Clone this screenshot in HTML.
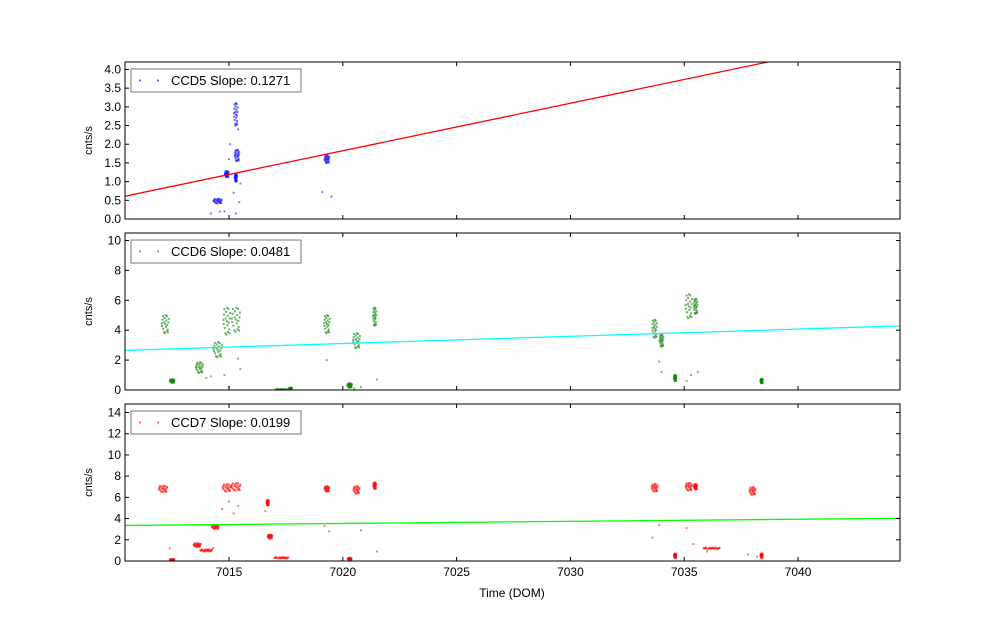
<!DOCTYPE html>
<html><head><meta charset="utf-8">
<style>
html,body{margin:0;padding:0;background:#fff;}
svg{display:block;font-family:"Liberation Sans","DejaVu Sans",sans-serif;}
</style></head>
<body>
<svg id="chart" width="1000" height="624" viewBox="0 0 1000 624"></svg>
<script>
// ---- data ----
const xTicks = [7015, 7020, 7025, 7030, 7035, 7040];
const ccdNames = ["CCD5", "CCD6", "CCD7"];
const slopes = ["0.1271", "0.0481", "0.0199"];
const yTicks5 = [0.0, 0.5, 1.0, 1.5, 2.0, 2.5, 3.0, 3.5, 4.0];
const yTicks6 = [0, 2, 4, 6, 8, 10];
const yTicks7 = [0, 2, 4, 6, 8, 10, 12, 14];
const fit5 = [0.61, 0.1271];   // intercept at x-min, slope
const fit6 = [2.65, 0.0481];
const fit7 = [3.35, 0.0199];
// clusters: x, y, x-spread (days), y-spread
const clX5 = [7014.5, 7014.9, 7015.3, 7015.35, 7015.3, 7019.3];
const clY5 = [0.48, 1.2, 2.8, 1.7, 1.1, 1.6];
const clDX5 = [0.18, 0.08, 0.08, 0.1, 0.05, 0.1];
const clDY5 = [0.06, 0.08, 0.3, 0.15, 0.1, 0.1];
const outX5 = [7015.05, 7015.2, 7015.45, 7015.5, 7019.1, 7019.5, 7015.0, 7014.2, 7014.6, 7014.8, 7015.3, 7015.4];
const outY5 = [2.0, 0.7, 0.45, 0.95, 0.72, 0.6, 1.6, 0.15, 0.2, 0.2, 0.15, 2.4];
const clX6 = [7012.2, 7012.5, 7013.7, 7014.5, 7014.9, 7015.3, 7017.3, 7017.7, 7019.3, 7020.3, 7020.6, 7021.4, 7033.7, 7034.0, 7034.6, 7035.2, 7035.5, 7038.4];
const clY6 = [4.4, 0.6, 1.5, 2.7, 4.6, 4.7, 0.03, 0.1, 4.4, 0.3, 3.3, 4.9, 4.1, 3.3, 0.8, 5.6, 5.6, 0.6];
const clDX6 = [0.15, 0.1, 0.15, 0.18, 0.15, 0.18, 0.25, 0.06, 0.12, 0.1, 0.15, 0.07, 0.1, 0.08, 0.05, 0.14, 0.08, 0.05];
const clDY6 = [0.6, 0.12, 0.35, 0.5, 0.9, 0.8, 0.03, 0.05, 0.6, 0.15, 0.5, 0.6, 0.6, 0.4, 0.2, 0.8, 0.5, 0.15];
const outX6 = [7014.0, 7014.8, 7015.0, 7015.5, 7019.3, 7020.5, 7021.5, 7033.9, 7034.0, 7035.3, 7035.6, 7035.1, 7020.8, 7014.2, 7015.4];
const outY6 = [0.8, 1.0, 0.2, 1.4, 2.0, 0.1, 0.7, 1.9, 1.2, 1.0, 1.2, 0.6, 0.2, 0.9, 2.1];
const clX7 = [7012.1, 7012.5, 7013.6, 7014.0, 7014.4, 7014.9, 7015.3, 7016.7, 7016.8, 7017.3, 7019.3, 7020.3, 7020.6, 7021.4, 7033.7, 7034.6, 7035.2, 7035.5, 7036.2, 7038.0, 7038.4];
const clY7 = [6.8, 0.1, 1.5, 1.0, 3.2, 6.9, 7.0, 5.5, 2.3, 0.3, 6.8, 0.2, 6.7, 7.1, 6.9, 0.5, 7.0, 7.0, 1.2, 6.6, 0.5];
const clDX7 = [0.18, 0.1, 0.15, 0.25, 0.15, 0.18, 0.2, 0.05, 0.1, 0.3, 0.1, 0.08, 0.13, 0.06, 0.13, 0.05, 0.14, 0.07, 0.35, 0.13, 0.05];
const clDY7 = [0.3, 0.08, 0.18, 0.1, 0.18, 0.35, 0.35, 0.25, 0.18, 0.06, 0.25, 0.1, 0.35, 0.3, 0.35, 0.2, 0.35, 0.25, 0.06, 0.35, 0.2];
const outX7 = [7012.4, 7014.3, 7014.7, 7015.0, 7015.2, 7015.4, 7016.6, 7019.2, 7019.4, 7020.8, 7021.5, 7033.6, 7033.9, 7035.1, 7035.4, 7036.0, 7037.8, 7038.2];
const outY7 = [1.2, 1.2, 4.9, 5.6, 4.5, 5.2, 4.7, 3.3, 2.8, 2.9, 0.9, 2.2, 3.4, 3.1, 1.6, 0.9, 0.6, 0.4];

const xMin = 7010.43, xMax = 7044.48, L = 125, R = 900;
const panels = [
 {top:62, bot:219, yMax:4.2, ticks:yTicks5, fmt:v=>v.toFixed(1), fit:fit5, fitCol:"#ff0000", dot:"#0000ff", cx:clX5, cy:clY5, dx:clDX5, dy:clDY5, ox:outX5, oy:outY5},
 {top:233, bot:390, yMax:10.5, ticks:yTicks6, fmt:v=>String(v), fit:fit6, fitCol:"#00ffff", dot:"#008000", cx:clX6, cy:clY6, dx:clDX6, dy:clDY6, ox:outX6, oy:outY6},
 {top:404, bot:561, yMax:14.8, ticks:yTicks7, fmt:v=>String(v), fit:fit7, fitCol:"#00ff00", dot:"#ff0000", cx:clX7, cy:clY7, dx:clDX7, dy:clDY7, ox:outX7, oy:outY7}
];
const NS = "http://www.w3.org/2000/svg";
const svg = document.getElementById("chart");
function mk(tag, attrs, parent){ const e=document.createElementNS(NS,tag); for(const k in attrs) e.setAttribute(k,attrs[k]); (parent||svg).appendChild(e); return e; }
const xs = v => L + (v - xMin) / (xMax - xMin) * (R - L);
// fixed jitter pattern used to spread a cluster's dots
const pat = [[0,0],[-0.8,0.5],[0.7,-0.6],[-0.4,-0.9],[0.5,0.9],[0.9,0.2],[-0.9,-0.2],[0.2,-0.3],[-0.2,0.7],[0.3,0.4],[-0.6,-0.5],[0.6,-0.1],[0.1,1],[-0.1,-1],[-0.3,0.2],[0.4,-0.8],[-0.7,0.9],[0.8,-0.9],[-1,0.1],[1,0.6]];

panels.forEach((p, i) => {
  const g = mk("g", {});
  
  
  const ys = v => p.bot - v / p.yMax * (p.bot - p.top);
  const clip = mk("clipPath", {id:"c"+i}, g);
  mk("rect", {x:L, y:p.top, width:R-L, height:p.bot-p.top}, clip);
  const plot = mk("g", {"clip-path":"url(#c"+i+")"}, g);
  for (let k = 0; k < p.cx.length; k++) {
    pat.forEach(o => {
      const d = mk("rect", {x:xs(p.cx[k] + o[0]*p.dx[k]) - 1, y:ys(p.cy[k] + o[1]*p.dy[k]) - 1, width:2, height:2, fill:p.dot, opacity:0.6}, plot);
      
      
    });
  }
  for (let k = 0; k < p.ox.length; k++) {
    const d = mk("rect", {x:xs(p.ox[k]) - 1, y:ys(p.oy[k]) - 1, width:2, height:2, fill:p.dot, opacity:0.5}, plot);
    
    
  }
  const fl = mk("line", {x1:xs(xMin), y1:ys(p.fit[0]), x2:xs(xMax), y2:ys(p.fit[0] + p.fit[1]*(xMax-xMin)), stroke:p.fitCol, "stroke-width":1.3}, plot);
  
  
  const fr = mk("rect", {x:L, y:p.top, width:R-L, height:p.bot-p.top, fill:"none", stroke:"#000", "stroke-width":1}, g);
  
  
  xTicks.forEach(t => {
    const x = xs(t);
    mk("line", {x1:x, y1:p.bot, x2:x, y2:p.bot-4, stroke:"#000"}, g);
    mk("line", {x1:x, y1:p.top, x2:x, y2:p.top+4, stroke:"#000"}, g);
    if (i === 2) {
      const tl = mk("text", {x:x, y:p.bot+15, "font-size":12, "text-anchor":"middle"}, g);
      tl.textContent = t;
      
      
    }
  });
  p.ticks.forEach(t => {
    const y = ys(t);
    mk("line", {x1:L, y1:y, x2:L+4, y2:y, stroke:"#000"}, g);
    mk("line", {x1:R, y1:y, x2:R-4, y2:y, stroke:"#000"}, g);
    const tl = mk("text", {x:L-4, y:y+4, "font-size":12, "text-anchor":"end"}, g);
    tl.textContent = p.fmt(t);
    
    
  });
  const yc = (p.top + p.bot) / 2;
  const yt = mk("text", {x:0, y:0, "font-size":11, "text-anchor":"middle", transform:"translate(92,"+yc+") rotate(-90)"}, g);
  yt.textContent = "cnts/s";
  
  
  const lg = mk("g", {}, g);
  
  
  mk("rect", {x:131, y:p.top+7, width:170, height:23, fill:"#fff", stroke:"#777", "stroke-width":1}, lg);
  mk("rect", {x:139, y:p.top+17.5, width:2, height:2, fill:p.dot, opacity:0.6}, lg);
  mk("rect", {x:157, y:p.top+17.5, width:2, height:2, fill:p.dot, opacity:0.6}, lg);
  const lt = mk("text", {x:171, y:p.top+23, "font-size":13}, lg);
  lt.textContent = ccdNames[i] + " Slope: " + slopes[i];
});
const xt = mk("text", {x:512, y:597, "font-size":12, "text-anchor":"middle"});
xt.textContent = "Time (DOM)";


</script>
</body></html>
